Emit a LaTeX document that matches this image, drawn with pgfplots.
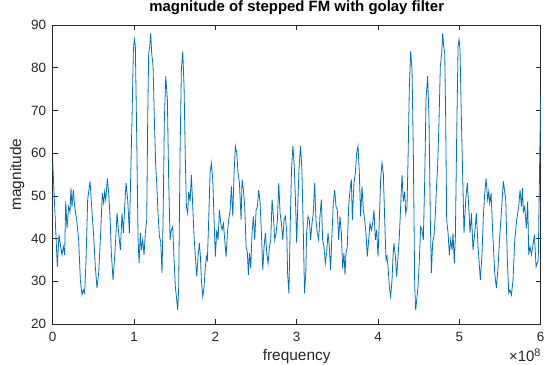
\documentclass[border=0pt]{standalone}
\usepackage{fontspec}
\setmainfont{Liberation Sans}
\usepackage{pgfplots}
\usepackage{pgfplotstable}
\pgfplotsset{compat=1.18}
\definecolor{mblue}{rgb}{0,0.447,0.741}
\definecolor{axgray}{rgb}{0.15,0.15,0.15}
\pgfplotstableread{
x y
0.000 58.0
0.057 33.4
0.077 40.9
0.098 38.1
0.114 36.2
0.131 38.1
0.147 36.2
0.160 48.7
0.176 42.4
0.196 47.5
0.213 46.3
0.225 51.8
0.237 47.5
0.254 51.4
0.270 47.5
0.295 44.4
0.319 39.7
0.340 30.3
0.360 26.8
0.377 28.0
0.393 27.2
0.410 35.0
0.430 49.1
0.459 53.4
0.479 47.5
0.504 40.5
0.524 33.4
0.545 28.4
0.565 31.9
0.590 41.3
0.610 50.6
0.627 48.3
0.639 51.0
0.652 49.1
0.672 54.1
0.688 50.6
0.705 45.2
0.721 36.6
0.742 30.3
0.770 38.1
0.791 45.9
0.811 41.3
0.832 37.3
0.852 45.9
0.869 41.3
0.885 47.5
0.902 53.0
0.922 49.1
0.943 41.3
0.959 54.5
0.975 67.8
0.992 84.2
1.004 86.6
1.016 85.0
1.033 63.9
1.049 40.5
1.062 34.2
1.078 41.3
1.090 37.3
1.107 39.7
1.123 36.2
1.139 41.3
1.156 44.4
1.168 67.8
1.180 83.4
1.193 85.0
1.205 88.1
1.217 83.4
1.234 80.3
1.250 67.8
1.267 56.9
1.279 53.0
1.295 45.9
1.312 40.5
1.328 39.3
1.344 31.9
1.357 44.4
1.373 67.8
1.390 78.0
1.410 72.5
1.426 53.8
1.443 39.7
1.459 42.0
1.476 42.8
1.492 35.0
1.508 28.8
1.537 23.3
1.549 28.8
1.566 60.0
1.582 79.5
1.599 83.8
1.615 75.6
1.631 58.4
1.644 47.5
1.660 45.9
1.672 51.0
1.689 48.7
1.705 54.9
1.722 47.5
1.738 40.5
1.754 35.8
1.771 31.1
1.787 35.8
1.804 38.9
1.816 35.8
1.828 30.3
1.845 26.4
1.861 28.8
1.877 33.4
1.890 35.8
1.902 35.0
1.918 44.4
1.935 55.3
1.951 57.7
1.968 53.8
1.984 44.4
2.000 35.8
2.017 42.0
2.033 39.7
2.050 46.7
2.066 43.6
2.082 42.0
2.099 43.6
2.115 39.7
2.132 35.8
2.148 41.3
2.164 44.4
2.181 46.7
2.197 52.2
2.214 45.2
2.230 55.3
2.246 61.6
2.263 60.0
2.279 55.3
2.296 53.0
2.316 44.4
2.328 53.8
2.345 51.4
2.361 47.5
2.378 38.1
2.394 36.6
2.406 31.5
2.419 36.6
2.435 33.0
2.451 41.3
2.468 45.2
2.484 39.7
2.501 46.7
2.517 47.5
2.533 51.4
2.550 48.3
2.566 41.3
2.583 32.7
2.599 38.1
2.615 41.3
2.632 36.6
2.648 34.2
2.665 38.1
2.681 39.7
2.697 49.1
2.714 45.2
2.730 39.7
2.747 41.3
2.763 44.4
2.779 53.0
2.796 45.9
2.812 43.6
2.829 39.7
2.845 44.4
2.861 45.2
2.878 41.3
2.888 31.9
2.904 27.2
2.920 42.8
2.936 56.1
2.953 61.7
2.970 56.9
2.986 48.3
3.000 38.9
3.014 48.3
3.030 56.9
3.047 61.7
3.064 56.1
3.080 42.8
3.096 27.2
3.112 31.9
3.122 41.3
3.139 45.2
3.155 44.4
3.171 39.7
3.188 43.6
3.204 45.9
3.221 53.0
3.237 44.4
3.253 41.3
3.270 39.7
3.286 45.2
3.303 49.1
3.319 39.7
3.335 38.1
3.352 34.2
3.368 36.6
3.385 41.3
3.401 38.1
3.417 32.7
3.434 41.3
3.450 48.3
3.467 51.4
3.483 47.5
3.499 46.7
3.516 39.7
3.532 45.2
3.549 41.3
3.565 33.0
3.581 36.6
3.594 31.5
3.606 36.6
3.622 38.1
3.639 47.5
3.655 51.4
3.672 53.8
3.684 44.4
3.704 53.0
3.721 55.3
3.737 60.0
3.754 61.6
3.770 55.3
3.786 45.2
3.803 52.2
3.819 46.7
3.836 44.4
3.852 41.3
3.868 35.8
3.885 39.7
3.901 43.6
3.918 42.0
3.934 43.6
3.950 46.7
3.967 39.7
3.983 42.0
4.000 35.8
4.016 44.4
4.032 53.8
4.049 57.7
4.065 55.3
4.082 44.4
4.098 35.0
4.110 35.8
4.123 33.4
4.139 28.8
4.155 26.4
4.172 30.3
4.184 35.8
4.196 38.9
4.213 35.8
4.229 31.1
4.246 35.8
4.262 40.5
4.278 47.5
4.295 54.9
4.311 48.7
4.328 51.0
4.340 45.9
4.356 47.5
4.369 58.4
4.385 75.6
4.401 83.8
4.418 79.5
4.434 60.0
4.451 28.8
4.463 23.3
4.492 28.8
4.508 35.0
4.524 42.8
4.541 42.0
4.557 39.7
4.574 53.8
4.590 72.5
4.610 78.0
4.627 67.8
4.643 44.4
4.656 31.9
4.672 39.3
4.688 40.5
4.705 45.9
4.721 53.0
4.733 56.9
4.750 67.8
4.766 80.3
4.783 83.4
4.795 88.1
4.807 85.0
4.820 83.4
4.832 67.8
4.844 44.4
4.861 41.3
4.877 36.2
4.893 39.7
4.910 37.3
4.922 41.3
4.938 34.2
4.951 40.5
4.967 63.9
4.984 85.0
4.996 86.6
5.008 84.2
5.025 67.8
5.041 54.5
5.057 41.3
5.078 49.1
5.098 53.0
5.115 47.5
5.131 41.3
5.148 45.9
5.168 37.3
5.189 41.3
5.209 45.9
5.230 38.1
5.258 30.3
5.279 36.6
5.295 45.2
5.312 50.6
5.328 54.1
5.348 49.1
5.361 51.0
5.373 48.3
5.390 50.6
5.410 41.3
5.435 31.9
5.455 28.4
5.476 33.4
5.496 40.5
5.521 47.5
5.541 53.4
5.570 49.1
5.590 35.0
5.607 27.2
5.623 28.0
5.640 26.8
5.660 30.3
5.681 39.7
5.705 44.4
5.730 47.5
5.746 51.4
5.763 47.5
5.775 51.8
5.787 46.3
5.804 47.5
5.824 42.4
5.840 48.7
5.853 36.2
5.869 38.1
5.886 36.2
5.902 38.1
5.923 40.9
5.943 33.4
5.970 35.0
5.985 55.0
6.000 74.0
}\magdata
\begin{document}
\begin{tikzpicture}
\useasboundingbox (-52.7bp,-41bp) rectangle (491.3bp,324bp);
\begin{axis}[
  at={(0,0)}, anchor=south west,
  scale only axis, width=488bp, height=299bp,
  xmin=0, xmax=6, ymin=20, ymax=90,
  xtick={0,1,2,3,4,5,6}, ytick={20,30,40,50,60,70,80,90},
  tick align=inside, xtick pos=both, ytick pos=both,
  xticklabel pos=bottom, yticklabel pos=left,
  major tick length=5bp,
  tick style={axgray, line width=0.5bp},
  axis line style={axgray, line width=0.5bp},
  /pgf/number format/assume math mode=true,
  ticklabel style={font=\fontsize{13.5}{14}\selectfont, text=axgray},
  xticklabel style={yshift=-5bp},
  yticklabel style={xshift=-3bp},
  title={magnitude of stepped FM with golay filter},
  title style={font=\bfseries\fontsize{15}{16}\selectfont, at={(0.5,1)}, anchor=base, yshift=8bp, inner sep=0pt},
  xlabel={frequency},
  ylabel={magnitude},
  xlabel style={font=\fontsize{15.5}{17}\selectfont, text=axgray, at={(0.5,0)}, anchor=center, yshift=-33bp},
  ylabel style={font=\fontsize{15.5}{17}\selectfont, text=axgray},
  clip mode=individual,
]
\addplot[mblue, line width=0.8bp] table[x=x, y=y] {\magdata};
\node[anchor=east, font=\fontsize{15}{16}\selectfont, text=axgray, inner sep=0pt] at (rel axis cs:1,0) [yshift=-31bp] {×10\raisebox{5bp}{\fontsize{11}{12}\selectfont 8}};
\end{axis}
\end{tikzpicture}
\end{document}
